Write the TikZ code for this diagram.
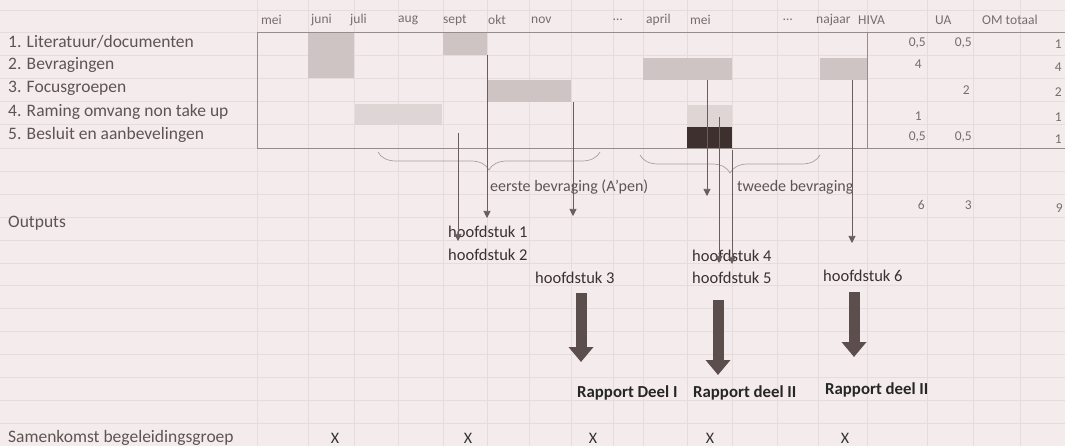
\documentclass[tikz,border=0pt]{standalone}
\usepackage{fontspec}
\setmainfont{Carlito}
\usetikzlibrary{decorations.pathreplacing,calc,positioning,arrows.meta}

\definecolor{paper}{HTML}{F4ECEC}
\definecolor{gridline}{HTML}{E5DCDC}
\definecolor{frame}{HTML}{968C8C}
\definecolor{barmid}{HTML}{CDC4C3}
\definecolor{barlight}{HTML}{DED6D5}
\definecolor{bardark}{HTML}{3E302E}
\definecolor{inkgray}{HTML}{5E5454}
\definecolor{headgray}{HTML}{776D6D}
\definecolor{darkink}{HTML}{3A3030}
\definecolor{arrowgray}{HTML}{6A5E5C}
\definecolor{fatgray}{HTML}{5C4E4C}
\definecolor{bracegray}{HTML}{A89E9E}

\begin{document}
\begin{tikzpicture}[x=1pt,y=-1pt,
    every node/.style={inner sep=0pt,text=inkgray},
    task/.style={anchor=west,font=\fontsize{17.5}{20}\selectfont},
    month/.style={anchor=west,font=\fontsize{13.5}{15}\selectfont,text=headgray},
    num/.style={anchor=east,font=\fontsize{13.5}{15}\selectfont,text=headgray},
    chapter/.style={anchor=west,font=\fontsize{16.5}{18}\selectfont,text=darkink},
    report/.style={anchor=west,font=\bfseries\fontsize{16.8}{18}\selectfont,text=black!85},
    meet/.style={font=\fontsize{16}{18}\selectfont,text=black!80},
    thinarrow/.style={draw=arrowgray,line width=0.6pt,-{Triangle[width=7pt,length=7pt]}},
    fatarrow/.style={draw=fatgray,line width=11pt,-{Triangle[width=24pt,length=15pt]}},
    gbrace/.style={draw=bracegray,line width=0.7pt,decorate,decoration={brace,mirror,amplitude=18pt}}]
    % Paper
    \useasboundingbox[fill=paper] (0,0) rectangle (1065,446);
    % Faint spreadsheet grid
    \foreach \y in {10,32,55,78,101,124,148,171,194,217,240,263,285,308,331,354,377,400,423} {
        \draw[gridline] (0,\y) -- (1065,\y);
    }
    \foreach \x in {257,308,354,398,443,487,529,571,613,643,687,732,777,818,867,927,973,1020} {
        \draw[gridline] (\x,0) -- (\x,446);
    }
    % Bars of the planning
    \fill[barmid] (308,33) rectangle (354,78);   % juni
    \fill[barmid] (443,33) rectangle (487,55);   % sept
    \fill[barmid] (643,58) rectangle (732,80);   % april - mei
    \fill[barmid] (820,58) rectangle (867,80);   % najaar
    \fill[barmid] (487,80) rectangle (571,102);  % okt - nov
    \fill[barlight] (355,104) rectangle (442,125);
    \fill[barlight] (687,105) rectangle (732,127);
    \fill[bardark] (687,127) rectangle (732,149);
    % Table frame
    \draw[frame,line width=0.8pt] (257,32) -- (1065,32);
    \draw[frame,line width=0.8pt] (257,32) -- (257,148) -- (1065,148);
    \draw[frame,line width=0.8pt] (867,32) -- (867,148);
    % Month labels
    \foreach \x/\m [count=\i] in {261/mei,311/juni,350/juli,398/aug,443/sept,488/okt,531/nov,613/\ldots,
        646/april,690/mei,783/\ldots,816/najaar,858/HIVA,935/UA,982/OM totaal} {
        \node[month] (m\i) at (\x,20) {\m};
    }
    % Tasks
    \foreach \t [count=\i] in {{1. Literatuur/documenten},{2. Bevragingen},{3. Focusgroepen},
        {4. Raming omvang non take up},{5. Besluit en aanbevelingen}} {
        \node[task] (task\i) at (8,{18.5+23.3*\i}) {\t};
    }
    % Person-months
    \foreach \x/\y/\v [count=\i] in {926/43/{0,5},972/43/{0,5},1062/44/1,
        922/64/4,1062/67/4,
        970/90/2,1062/92/2,
        922/116/1,1062/117/1,
        926/137/{0,5},972/137/{0,5},1062/139/1,
        925/205/6,972/205/3,1063/208/9} {
        \node[num] (n\i) at (\x,\y) {\v};
    }
    % Braces and survey labels
    \draw[gbrace] (378,152) -- (600,152);
    \draw[gbrace] (640,155) -- (820,155);
    \node[task,font=\fontsize{16}{18}\selectfont] (eerste) at (490,187) {eerste bevraging (A'pen)};
    \node[task,font=\fontsize{16}{18}\selectfont] (tweede) at (737,187) {tweede bevraging};
    % Outputs
    \node[task] (outputs) at (8,223) {Outputs};
    \node[chapter] (h1) at (448,232) {hoofdstuk 1};
    \node[chapter] (h2) at (448,255) {hoofdstuk 2};
    \node[chapter] (h3) at (535,278) {hoofdstuk 3};
    \node[chapter] (h4) at (692,256) {hoofdstuk 4};
    \node[chapter] (h5) at (692,278) {hoofdstuk 5};
    \node[chapter] (h6) at (823,276) {hoofdstuk 6};
    % Thin arrows from the bars to the chapters
    \foreach \x/\ya/\yb [count=\i] in {458/133/241,487/55/218,573/102/216,707/80/196,
        719/117/263,732/150/264,852/80/243} {
        \coordinate (s\i) at (\x,\ya);
        \coordinate (e\i) at (\x,\yb);
        \draw[thinarrow] (s\i) -- (e\i);
    }
    % Reports
    \node[report] (r1) at (577,393) {Rapport Deel I};
    \node[report] (r2) at (693,393) {Rapport deel II};
    \node[report] (r3) at (825,390) {Rapport deel II};
    \foreach \x/\ya/\yb [count=\i] in {581/293/362,718/300/375,854/292/357} {
        \coordinate (fs\i) at (\x,\ya);
        \coordinate (fe\i) at (\x,\yb);
        \draw[fatarrow] (fs\i) -- (fe\i);
    }
    % Meetings
    \node[task] (samen) at (8,438) {Samenkomst begeleidingsgroep};
    \foreach \x [count=\i] in {335,468,593,710,845} {
        \node[meet] (x\i) at (\x,438) {X};
    }
\end{tikzpicture}
\end{document}
